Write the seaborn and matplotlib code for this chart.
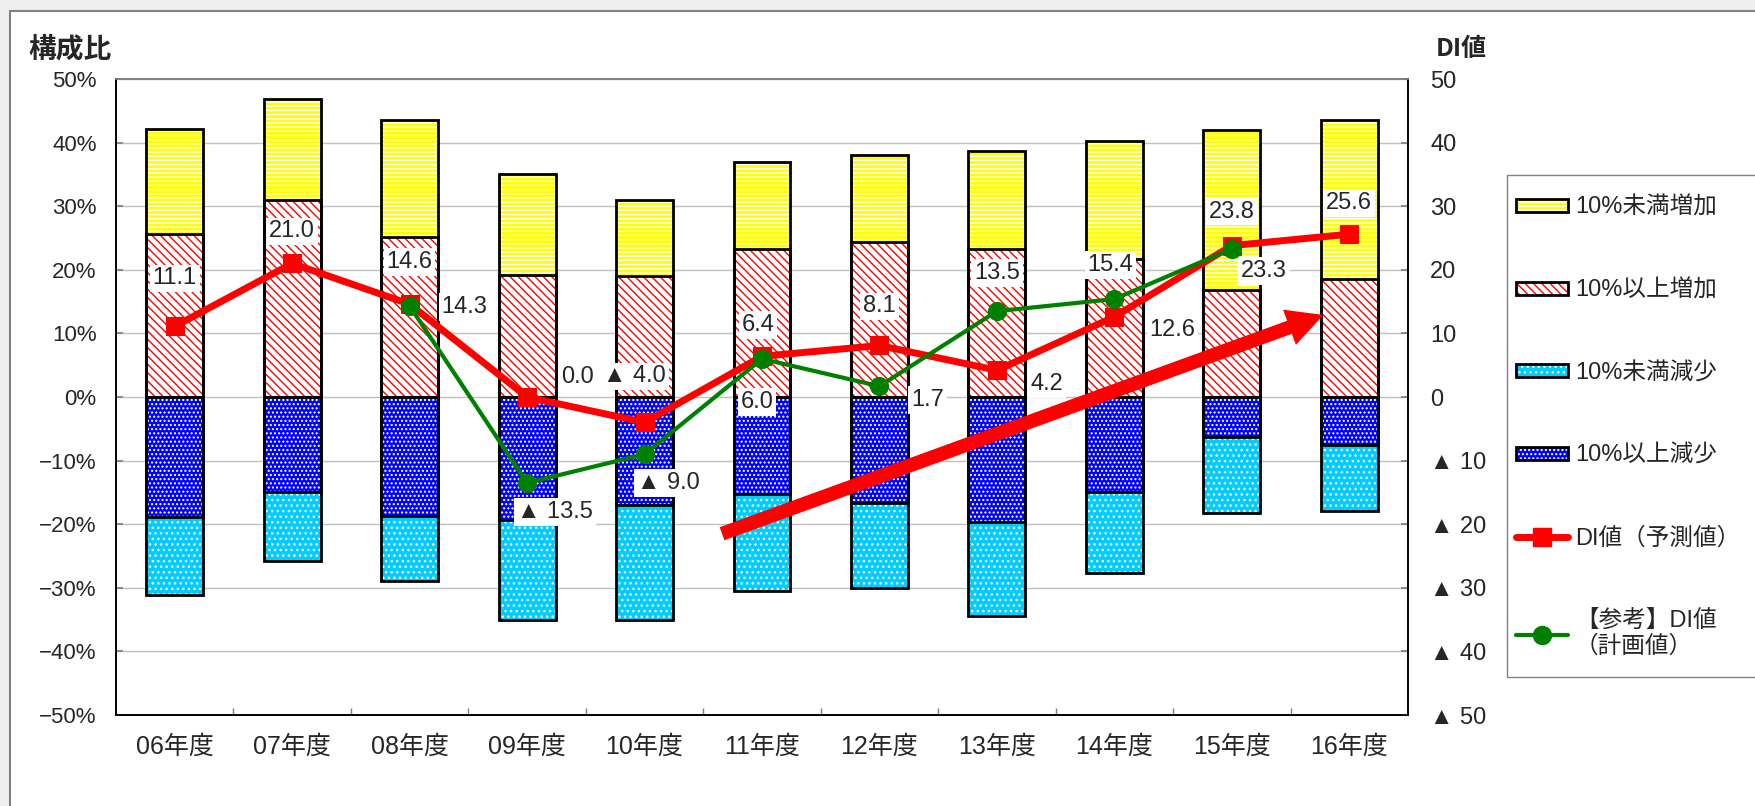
import numpy as np
import matplotlib
matplotlib.use("Agg")
import matplotlib.pyplot as plt
import seaborn as sns
from matplotlib.patches import Patch, Rectangle
from matplotlib.lines import Line2D

# ---------------- data ----------------
years = ["06年度", "07年度", "08年度", "09年度", "10年度", "11年度",
         "12年度", "13年度", "14年度", "15年度", "16年度"]
inc_small = [16.5, 15.9, 18.4, 15.9, 12.0, 13.6, 13.8, 15.5, 18.6, 25.1, 25.0]   # 10%未満増加
inc_large = [25.7, 30.9, 25.2, 19.2, 19.0, 23.3, 24.3, 23.2, 21.7, 16.9, 18.6]   # 10%以上増加
dec_small = [12.3, 10.8, 10.3, 15.8, 18.0, 15.3, 13.4, 14.9, 12.8, 11.9, 10.5]   # 10%未満減少
dec_large = [18.8, 15.0, 18.7, 19.3, 17.0, 15.2, 16.6, 19.6, 14.9, 6.3, 7.5]     # 10%以上減少
di_forecast = [11.1, 21.0, 14.6, 0.0, -4.0, 6.4, 8.1, 4.2, 12.6, 23.8, 25.6]
di_plan = [np.nan, np.nan, 14.3, -13.5, -9.0, 6.0, 1.7, 13.5, 15.4, 23.3, np.nan]
series_labels = ["10%未満増加", "10%以上増加", "10%未満減少", "10%以上減少",
                 "DI値（予測値）", "【参考】DI値\n（計画値）"]

# label offsets (pixels) -- layout only
red_offsets = [(0, 48), (0, 32), (0, 42), (50, 20), (-10, 46), (-4, 31),
               (0, 39), (50, -14), (58, -13), (0, 34), (0, 31)]
green_offsets = [None, None, (55, -1), (28, -29), (24, -29), (-5, -43),
                 (48, -14), (0, 38), (-4, 34), (32, -22), None]

# ---------------- style ----------------
sns.set_theme(style="white")
plt.rcParams["font.family"] = ["Liberation Sans", "Noto Sans CJK JP", "DejaVu Sans"]
plt.rcParams["hatch.linewidth"] = 1.0

W, H = 1756, 806
fig = plt.figure(figsize=(W / 100, H / 100), dpi=100, facecolor="#eeeeee")
# chart border
fig.patches.append(Rectangle((10 / W, -0.05), 1.1, 1.05 - 11 / H, transform=fig.transFigure,
                             facecolor="white", edgecolor="#808080", lw=1.5, zorder=-2))
# legend frame
fig.patches.append(Rectangle((1507 / W, 1 - 677 / H), 0.2, (677 - 175) / H, transform=fig.transFigure,
                             facecolor="white", edgecolor="#808080", lw=1.0, zorder=-1))

ax = fig.add_axes([116 / W, 1 - 715 / H, (1408 - 116) / W, (715 - 79) / H])
ax.patch.set_facecolor("white")

BAR_W = 0.485
YELLOW, RED, CYAN, BLUE, GREEN = "#FFFF00", "#FF0000", "#00CCFF", "#0000FF", "#008000"
H_YEL, H_RED, H_CYAN, H_BLUE = "----", "\\\\\\\\", "...", "...."


def draw_segment(heights, face, hatch_color, hatch):
    n0 = len(ax.patches)
    sns.barplot(x=years, y=heights, order=years, color=face, saturation=1,
                width=BAR_W, errorbar=None, ax=ax, zorder=2)
    for p in ax.patches[n0:]:
        p.set_facecolor(face)
        p.set_edgecolor(hatch_color)
        p.set_linewidth(0)
        p.set_hatch(hatch)
    n0 = len(ax.patches)
    sns.barplot(x=years, y=heights, order=years, fill=False,
                width=BAR_W, errorbar=None, ax=ax, zorder=3)
    for p in ax.patches[n0:]:
        p.set_facecolor("none")
        p.set_edgecolor("black")
        p.set_linewidth(2.0)


pos_total = [a + b for a, b in zip(inc_small, inc_large)]
neg_total = [-(a + b) for a, b in zip(dec_small, dec_large)]
draw_segment(pos_total, YELLOW, "white", H_YEL)
draw_segment(inc_large, "white", RED, H_RED)
draw_segment(neg_total, CYAN, "white", H_CYAN)
draw_segment([-v for v in dec_large], BLUE, "white", H_BLUE)

ax.set_ylim(-50, 50)
ax.set_xlim(-0.5, len(years) - 0.5)
ax.set_yticks(range(-50, 51, 10))
ax.set_yticklabels([f"{v}%" if v >= 0 else f"\u2212{abs(v)}%" for v in range(-50, 51, 10)])
ax.set_xticks(range(len(years)))
ax.set_xticklabels(years)
ax.set_xticks(np.arange(0.5, len(years) - 1, 1), minor=True)
ax.set_xlabel("")
ax.set_ylabel("")
ax.grid(axis="y", color="#c0c0c0", lw=1.0, zorder=0)
ax.grid(axis="x", visible=False)
ax.set_axisbelow(True)
ax.tick_params(axis="y", direction="in", length=5, color="#808080", pad=14,
               labelsize=16, left=True)
ax.tick_params(axis="x", which="major", length=0, pad=14, labelsize=18)
ax.tick_params(axis="x", which="minor", direction="in", length=5, color="#808080",
               bottom=True)

# ---------------- DI lines on right axis ----------------
ax2 = ax.twinx()
xs = np.arange(len(years))
sns.lineplot(x=xs, y=di_forecast, ax=ax2, color=RED, lw=5, marker="s",
             markersize=13, markeredgecolor=RED, zorder=5)
sns.lineplot(x=xs, y=di_plan, ax=ax2, color=GREEN, lw=3, marker="o",
             markersize=13, markeredgecolor=GREEN, zorder=6)
ax2.set_ylim(-50, 50)
ax2.set_xlim(-0.5, len(years) - 0.5)
ax2.set_yticks(range(-50, 51, 10))
ax2.set_yticklabels([str(v) if v >= 0 else f"▲ {abs(v)}" for v in range(-50, 51, 10)])
ax2.set_xlabel("")
ax2.set_ylabel("")
ax2.tick_params(axis="y", direction="in", length=5, color="#808080", pad=16,
                labelsize=17, right=True)

for a in (ax, ax2):
    for side in ("left", "right", "bottom"):
        a.spines[side].set_color("black")
        a.spines[side].set_linewidth(1.2)
    a.spines["top"].set_color("#808080")
    a.spines["top"].set_linewidth(1.2)

# big trend arrow (decoration)
ARROW_FROM = (4.66, -21.5)
ARROW_TO = (9.78, 12.9)
ax2.annotate("", xy=ARROW_TO, xytext=ARROW_FROM,
             arrowprops=dict(arrowstyle="simple,head_width=2.7,head_length=2.6,tail_width=1.0",
                             mutation_scale=10, color=RED, lw=0, shrinkA=0, shrinkB=0),
             zorder=4)


def fmt(v):
    return f"▲ {abs(v):.1f}" if v < 0 else f"{v:.1f}"


box = dict(boxstyle="square,pad=0.12", fc="white", ec="none")
for i, v in enumerate(di_forecast):
    ax2.annotate(fmt(v), (i, v), xytext=red_offsets[i], textcoords="offset pixels",
                 ha="center", va="center", fontsize=17, bbox=box, zorder=7)
for i, v in enumerate(di_plan):
    if np.isnan(v):
        continue
    ax2.annotate(fmt(v), (i, v), xytext=green_offsets[i], textcoords="offset pixels",
                 ha="center", va="center", fontsize=17, bbox=box, zorder=7)

# titles
fig.text(28 / W, 1 - 49 / H, "構成比", fontsize=20, fontweight="bold", va="center", ha="left",
         family=["Noto Sans CJK JP", "DejaVu Sans"])
fig.text(1436 / W, 1 - 49 / H, "DI値", fontsize=18, fontweight="bold", va="center", ha="left",
         family=["Noto Sans CJK JP", "DejaVu Sans"])

# legend
outline = dict(facecolor="none", edgecolor="black", lw=2)
handles = [
    (Patch(facecolor=YELLOW, edgecolor="white", hatch=H_YEL, lw=0), Patch(**outline)),
    (Patch(facecolor="white", edgecolor=RED, hatch=H_RED, lw=0), Patch(**outline)),
    (Patch(facecolor=CYAN, edgecolor="white", hatch=H_CYAN, lw=0), Patch(**outline)),
    (Patch(facecolor=BLUE, edgecolor="white", hatch=H_BLUE, lw=0), Patch(**outline)),
    Line2D([], [], color=RED, lw=5, marker="s", markersize=13, solid_capstyle="round"),
    Line2D([], [], color=GREEN, lw=3, marker="o", markersize=13, solid_capstyle="round"),
]
for a in (ax, ax2):
    lg = a.get_legend()
    if lg is not None:
        lg.remove()
fig.legend(handles, series_labels, loc="upper left",
           bbox_to_anchor=(1516 / W, 1 - 197 / H), bbox_transform=fig.transFigure,
           frameon=False, fontsize=17, handlelength=2.2, handleheight=0.45,
           handletextpad=0.3, labelspacing=2.56, borderpad=0, borderaxespad=0)

fig.savefig("out.png", dpi=100, facecolor=fig.get_facecolor())
